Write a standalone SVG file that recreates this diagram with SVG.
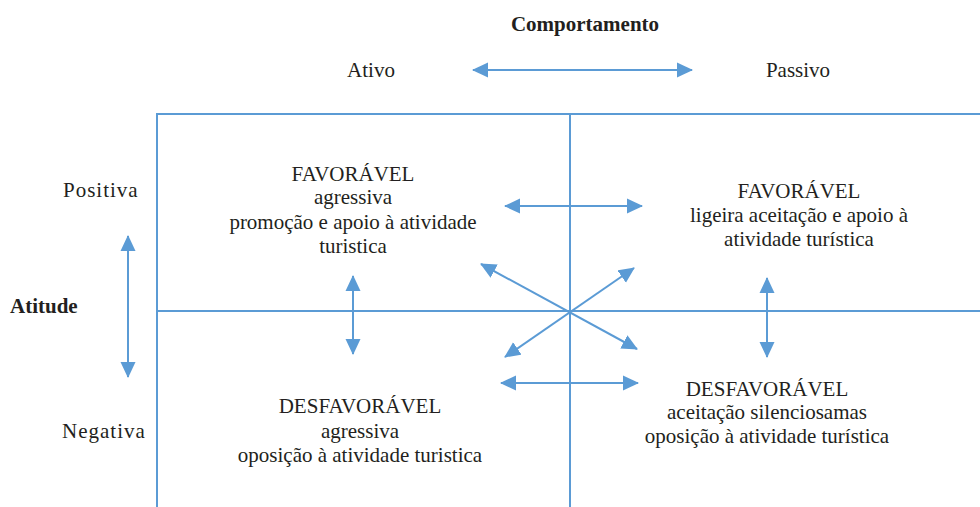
<svg xmlns="http://www.w3.org/2000/svg" width="980" height="507" viewBox="0 0 980 507">
<style>
text{font-family:"Liberation Serif","Times New Roman",serif;font-size:21px;fill:#231f20}
.b{font-weight:bold}
.c{text-anchor:middle}
.ls{letter-spacing:1px}
.frame{stroke:#5b9bd5;stroke-width:2;fill:none}
.arr{stroke:#5b9bd5;stroke-width:2;fill:none;marker-start:url(#ah);marker-end:url(#ah)}
</style>
<defs>
<marker id="ah" markerUnits="userSpaceOnUse" markerWidth="16" markerHeight="16" refX="15" refY="7.5" orient="auto-start-reverse" viewBox="0 0 16 15">
<path d="M0,0 L16,7.5 L0,15 z" fill="#5b9bd5"/>
</marker>
</defs>
<g id="frame">
<path class="frame" d="M157,507 V114 H980 M570,114 V507 M157,311 H980"/>
</g>
<g id="connectors">
<line class="arr" x1="473" y1="70" x2="692" y2="70"/>
<line class="arr" x1="128" y1="236" x2="128" y2="377"/>
<line class="arr" x1="505" y1="206" x2="642" y2="206"/>
<line class="arr" x1="501" y1="383" x2="638" y2="383"/>
<line class="arr" x1="353" y1="276" x2="353" y2="354"/>
<line class="arr" x1="767" y1="278" x2="767" y2="357"/>
<line class="arr" x1="481" y1="264" x2="637" y2="349"/>
<line class="arr" x1="634" y1="268" x2="505" y2="357"/>
</g>
<g id="axis-labels">
<text class="b c" x="585" y="31">Comportamento</text>
<text class="c" x="371" y="77">Ativo</text>
<text class="c" x="798" y="77">Passivo</text>
<text class="ls" x="63" y="197">Positiva</text>
<text class="b" x="10" y="313">Atitude</text>
<text class="ls" x="62" y="438">Negativa</text>
</g>
<g id="q1">
<text class="c" x="353" y="181">FAVORÁVEL</text>
<text class="c" x="353" y="204">agressiva</text>
<text class="c" x="353" y="229">promoção e apoio à atividade</text>
<text class="c" x="353" y="253">turistica</text>
</g>
<g id="q2">
<text class="c" x="799" y="198">FAVORÁVEL</text>
<text class="c" x="799" y="222">ligeira aceitação e apoio à</text>
<text class="c" x="799" y="246">atividade turística</text>
</g>
<g id="q3">
<text class="c" x="360" y="413">DESFAVORÁVEL</text>
<text class="c" x="360" y="438">agressiva</text>
<text class="c" x="360" y="462">oposição à atividade turistica</text>
</g>
<g id="q4">
<text class="c" x="767" y="396">DESFAVORÁVEL</text>
<text class="c" x="767" y="419">aceitação silenciosamas</text>
<text class="c" x="767" y="443">oposição à atividade turística</text>
</g>
</svg>
